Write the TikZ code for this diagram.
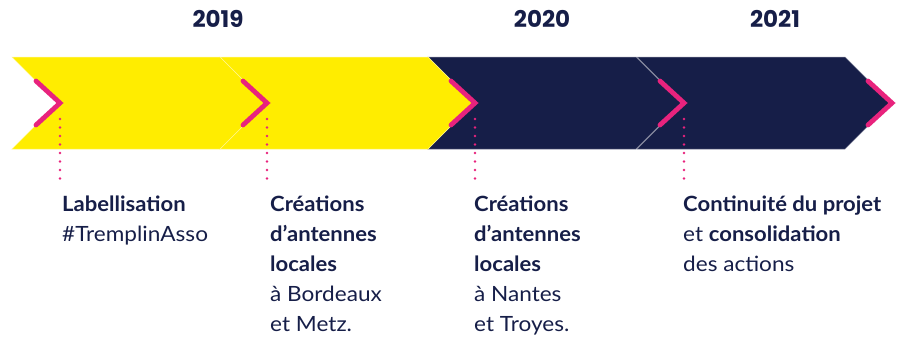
\documentclass[tikz,border=0pt]{standalone}
\usepackage{fontspec}
\usetikzlibrary{calc}
\setmainfont{Lato}[FakeStretch=1.075,BoldFeatures={FakeStretch=1.05}]
\newfontfamily\yearfont{Poppins}
\definecolor{yel}{HTML}{FFED00}
\definecolor{navy}{HTML}{161E48}
\definecolor{pink}{HTML}{E8237D}
\tikzset{
  seg/.style={line width=0.5pt},
  chev/.style={draw=pink,line width=4.8pt,line cap=round,line join=miter},
  dots/.style={draw=pink,line width=2.6pt,line cap=round,dash pattern=on 0pt off 8.5pt},
  year/.style={text=navy,font=\yearfont\bfseries\fontsize{23}{23}\selectfont,inner sep=0pt,anchor=base},
  txt/.style={text=navy,font=\fontsize{21}{30}\selectfont,inner sep=0pt,anchor=base west},
}
\newcommand\lines[1]{\vtop{\baselineskip=30pt\lineskiplimit=-20pt #1}}
\begin{document}
\begin{tikzpicture}[x=1pt,y=-1pt]
\useasboundingbox (0,0) rectangle (898,338);
% segments, right to left
\foreach \x/\c/\b in {637/navy/navy!55!white,428/navy/navy!55!white,220/yel/yel!45!white,12/yel/yel!45!white}{
  \filldraw[seg,fill=\c,draw=\b] (\x,57) -- ++(208,0) -- ++(46,46) -- ++(-46,46) -- ++(-208,0) -- ++(46,-46) -- cycle;
}
% chevrons
\foreach \n/\x in {a/60,b/267,c/475,d/684,e/892}{
  \coordinate (\n) at (\x,103);
  \draw[chev] ($(\n)+(-24,-22)$) -- (\n) -- ($(\n)+(-24,22)$);
}
\foreach \n in {a,b,c,d}{
  \coordinate (\n1) at ($(\n)+(0,16)$);
  \coordinate (\n2) at ($(\n)+(0,76)$);
  \draw[dots] (\n1) -- (\n2);
}
% years
\node[year] (y1) at (218,27) {2019};
\node[year] (y2) at (542,27) {2020};
\node[year] (y3) at (775,27) {2021};
% texts
\node[txt] (t1) at (62,211) {\lines{\hbox{\bfseries Labellisation}\hbox{\#TremplinAsso}}};
\node[txt] (t2) at (270,211) {\lines{\hbox{\bfseries Créations}\hbox{\bfseries d’antennes}\hbox{\bfseries locales}\hbox{à Bordeaux}\hbox{et Metz.}}};
\node[txt] (t3) at (474,211) {\lines{\hbox{\bfseries Créations}\hbox{\bfseries d’antennes}\hbox{\bfseries locales}\hbox{à Nantes}\hbox{et Troyes.}}};
\node[txt] (t4) at (683,211) {\lines{\hbox{\bfseries Continuité du projet}\hbox{et \bfseries consolidation}\hbox{des actions}}};
\end{tikzpicture}
\end{document}
